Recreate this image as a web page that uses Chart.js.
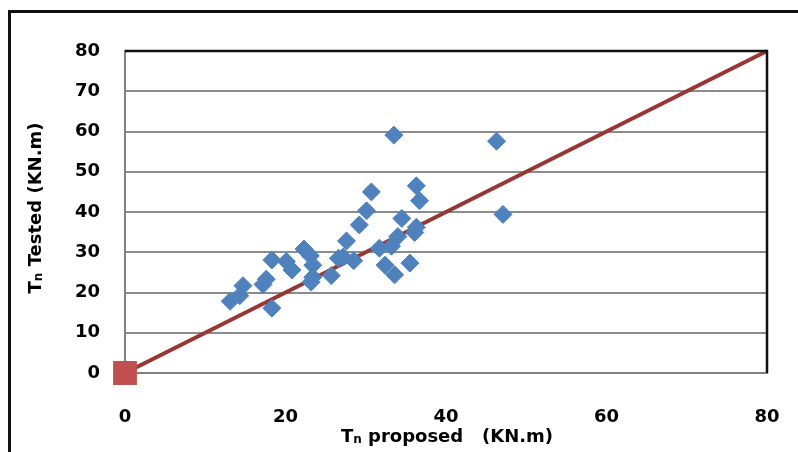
<!DOCTYPE html>
<html>
<head>
<meta charset="utf-8">
<script src="https://cdn.jsdelivr.net/npm/chart.js@4.4.1/dist/chart.umd.min.js"></script>
<style>
  html, body { margin: 0; padding: 0; background: #fff; }
  #wrap { position: relative; width: 798px; height: 452px; overflow: hidden; }
  #frame { position: absolute; left: 8px; top: 10px; width: 820px; height: 480px; border: 3px solid #111; }
  #myChart { position: absolute; left: 0; top: 0; }
</style>
</head>
<body>
<div id="wrap">
  <div id="frame"></div>
  <canvas id="myChart" width="798" height="452"></canvas>
</div>
<script>
// Dados
const proposed = [13.1, 14.3, 14.7, 17.2, 17.6, 18.3, 18.3, 20.1, 20.8, 22.3, 23.1, 23.4,
                  23.2, 23.4, 25.7, 26.6, 27.2, 27.6, 28.5, 29.2, 30.1, 30.7, 31.7, 32.4,
                  33.2, 33.6, 33.5, 34.0, 34.5, 35.5, 36.1, 36.3, 36.3, 36.7, 46.3, 47.1];
const tested = [17.8, 19.2, 21.7, 22.0, 23.3, 28.1, 16.1, 27.7, 25.6, 30.8, 29.1, 26.8,
                22.6, 23.8, 24.2, 28.5, 28.8, 32.8, 27.9, 36.8, 40.3, 45.0, 31.0, 26.8,
                31.5, 24.4, 59.1, 33.9, 38.4, 27.3, 34.9, 36.2, 46.5, 42.8, 57.6, 39.4];
const lineX = [0, 80]; // linha de igualdade
const lineY = [0, 80];
const xTicks = [0, 20, 40, 60, 80];
const yTicks = [0, 10, 20, 30, 40, 50, 60, 70, 80];

const FONT = 'DejaVu Sans';

// Títulos dos eixos com o "n" subscrito
const axisTitles = {
    id: 'axisTitles',
    afterDraw(chart) {
        const ctx = chart.ctx;
        function drawSub(parts, x, y) {
            // mede o comprimento total
            let w = 0;
            parts.forEach(p => {
                ctx.font = 'bold ' + p.size + 'px "' + FONT + '"';
                w += ctx.measureText(p.text).width;
            });
            let cx = x - w / 2;
            parts.forEach(p => {
                ctx.font = 'bold ' + p.size + 'px "' + FONT + '"';
                ctx.fillText(p.text, cx, y + (p.dy || 0));
                cx += ctx.measureText(p.text).width;
            });
        }
        ctx.save();
        ctx.fillStyle = '#000';
        ctx.textBaseline = 'middle';
        ctx.textAlign = 'left';
        drawSub([
            { text: 'T', size: 18 },
            { text: 'n', size: 12, dy: 3 },
            { text: ' proposed   (KN.m)', size: 18 }
        ], 447, 437);
        ctx.translate(36, 208);
        ctx.rotate(-Math.PI / 2);
        drawSub([
            { text: 'T', size: 18 },
            { text: 'n', size: 12, dy: 3 },
            { text: ' Tested (KN.m)', size: 18 }
        ], 0, 0);
        ctx.restore();

        // borda superior e direita da área do gráfico
        const a = chart.chartArea;
        ctx.save();
        ctx.strokeStyle = '#111';
        ctx.lineWidth = 2.5;
        ctx.beginPath();
        ctx.moveTo(a.left, a.top);
        ctx.lineTo(a.right, a.top);
        ctx.lineTo(a.right, a.bottom);
        ctx.stroke();
        ctx.restore();
    }
};

const ctx = document.getElementById('myChart').getContext('2d');
new Chart(ctx, {
    type: 'scatter',
    data: {
        datasets: [
            {
                label: 'Tested',
                data: proposed.map((x, i) => ({ x: x, y: tested[i] })),
                pointStyle: 'rectRot',
                pointRadius: 9,
                pointBackgroundColor: '#4f81bd',
                pointBorderColor: '#4f81bd',
                pointBorderWidth: 1,
                order: 1
            },
            {
                label: 'Igualdade',
                data: lineX.map((x, i) => ({ x: x, y: lineY[i] })),
                showLine: true,
                borderColor: '#993633',
                borderWidth: 4,
                pointStyle: 'rect',
                pointRadius: [14, 0],
                pointBackgroundColor: '#c0504d',
                pointBorderColor: '#c0504d',
                clip: false,
                order: 2
            }
        ]
    },
    options: {
        responsive: false,
        animation: false,
        events: [],
        layout: { padding: { left: 0, top: 51, right: 31, bottom: 0 } },
        plugins: { legend: { display: false }, tooltip: { enabled: false } },
        scales: {
            x: {
                type: 'linear',
                min: 0, max: 80,
                afterBuildTicks: s => { s.ticks = xTicks.map(v => ({ value: v })); },
                afterFit: s => { s.height = 79; s.paddingLeft = 0; s.paddingRight = 0; },
                grid: { display: false, drawTicks: false },
                border: { display: true, color: '#808080', width: 2 },
                ticks: { color: '#000', padding: 34, maxRotation: 0,
                         font: { family: FONT, size: 18, weight: 'bold' } }
            },
            y: {
                type: 'linear',
                min: 0, max: 80,
                afterBuildTicks: s => { s.ticks = yTicks.map(v => ({ value: v })); },
                afterFit: s => { s.width = 125; s.paddingTop = 0; s.paddingBottom = 0; },
                grid: { color: '#8c8c8c', lineWidth: 2, drawTicks: false },
                border: { display: true, color: '#808080', width: 2 },
                ticks: { color: '#000', padding: 25,
                         font: { family: FONT, size: 18, weight: 'bold' } }
            }
        }
    },
    plugins: [axisTitles]
});
</script>
</body>
</html>
